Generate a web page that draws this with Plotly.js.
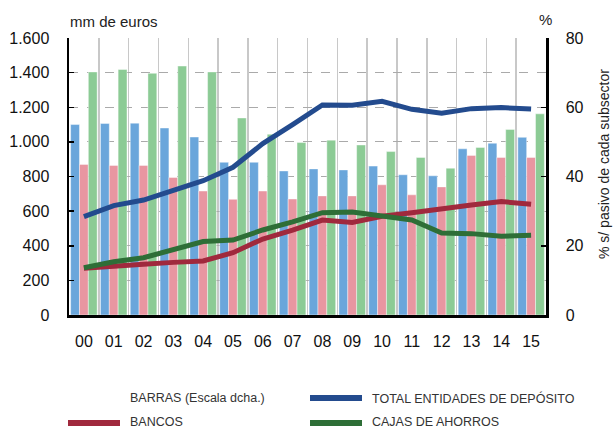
<!DOCTYPE html>
<html>
<head>
<meta charset="utf-8">
<script src="https://cdn.plot.ly/plotly-3.0.1.min.js"></script>
<style>html,body{margin:0;padding:0;background:#fff;}#chart{width:614px;height:430px;}</style>
</head>
<body>
<div id="chart"></div>
<script>
// ---- data ----
var years = ['00','01','02','03','04','05','06','07','08','09','10','11','12','13','14','15'];
// Lines (left axis, mm de euros)
var totalMM  = [568, 632, 664, 718, 776, 853, 990, 1100, 1213, 1211, 1234, 1188, 1165, 1192, 1198, 1190];
var bancosMM = [270, 285, 293, 304, 312, 360, 439, 490, 548, 535, 570, 591, 616, 635, 655, 640];
var cajasMM  = [273, 308, 331, 379, 424, 433, 491, 538, 591, 595, 574, 549, 474, 470, 455, 460];
// Bars (right axis, % s/ pasivo)
var totalPct  = [55.0, 55.3, 55.4, 54.0, 51.4, 44.1, 44.1, 41.6, 42.2, 41.9, 43.0, 40.5, 40.2, 48.0, 49.6, 51.3];
var bancosPct = [43.5, 43.2, 43.2, 39.7, 35.8, 33.4, 35.8, 33.5, 34.4, 34.4, 37.6, 34.7, 37.0, 46.1, 45.5, 45.5];
var cajasPct  = [70.2, 70.9, 69.8, 71.9, 70.2, 56.9, 52.2, 49.8, 50.5, 49.1, 47.2, 45.5, 42.4, 48.4, 53.6, 58.1];

var legendLabels = ['BARRAS (Escala dcha.)', 'TOTAL ENTIDADES DE DEPÓSITO', 'BANCOS', 'CAJAS DE AHORROS'];

// ---- styles ----
var cBarBlue = '#6aa6db', cBarPink = '#e896a1', cBarGreen = '#8ccb95';
var cLineBlue = '#234b8e', cLineRed = '#a0293d', cLineGreen = '#2e6e37';
var baseFont = 'Liberation Sans, Arial, Helvetica, sans-serif';

var L = 69, R = 68, T = 38, B = 115, W = 614, H = 430;
var pw = W - L - R, ph = H - T - B;
function px(x){ return (x - L) / pw; }
function py(y){ return (H - B - y) / ph; }

var barLine = {color: 'rgba(255,255,255,0.7)', width: 0.6};
var traces = [
  {type:'bar', x: years, y: totalPct, yaxis:'y', marker:{color:cBarBlue, line:barLine}, hoverinfo:'skip'},
  {type:'bar', x: years, y: bancosPct, yaxis:'y', marker:{color:cBarPink, line:barLine}, hoverinfo:'skip'},
  {type:'bar', x: years, y: cajasPct, yaxis:'y', marker:{color:cBarGreen, line:barLine}, hoverinfo:'skip'},
  {type:'scatter', mode:'lines', x: years, y: bancosMM, yaxis:'y2', line:{color:cLineRed, width:5}},
  {type:'scatter', mode:'lines', x: years, y: cajasMM, yaxis:'y2', line:{color:cLineGreen, width:5}},
  {type:'scatter', mode:'lines', x: years, y: totalMM, yaxis:'y2', line:{color:cLineBlue, width:5}}
];

var legFont = {family:baseFont, size:12.5, color:'#333'};
var annotations = [
  {xref:'paper', yref:'paper', x: px(68), y: py(21), xanchor:'left', yanchor:'middle', showarrow:false,
   text:'mm de euros', font:{family:baseFont, size:15, color:'#222'}},
  {xref:'paper', yref:'paper', x: px(545), y: py(20), xanchor:'center', yanchor:'middle', showarrow:false,
   text:'%', font:{family:baseFont, size:15, color:'#222'}},
  {xref:'paper', yref:'paper', x: px(604), y: py(164), xanchor:'center', yanchor:'middle', showarrow:false,
   textangle:-90, text:'% s/ pasivo de cada subsector', font:{family:baseFont, size:14, color:'#222'}},
  {xref:'paper', yref:'paper', x: px(128), y: py(398), xanchor:'left', yanchor:'middle', showarrow:false,
   text: legendLabels[0], font:legFont},
  {xref:'paper', yref:'paper', x: px(370), y: py(398), xanchor:'left', yanchor:'middle', showarrow:false,
   text: legendLabels[1], font:legFont},
  {xref:'paper', yref:'paper', x: px(128), y: py(422), xanchor:'left', yanchor:'middle', showarrow:false,
   text: legendLabels[2], font:legFont},
  {xref:'paper', yref:'paper', x: px(370), y: py(422), xanchor:'left', yanchor:'middle', showarrow:false,
   text: legendLabels[3], font:legFont}
];

var shapes = [
  {type:'line', xref:'paper', yref:'paper', x0:px(310), x1:px(362), y0:py(398), y1:py(398), line:{color:cLineBlue, width:6}},
  {type:'line', xref:'paper', yref:'paper', x0:px(68), x1:px(120), y0:py(423), y1:py(423), line:{color:cLineRed, width:6}},
  {type:'line', xref:'paper', yref:'paper', x0:px(310), x1:px(362), y0:py(423), y1:py(423), line:{color:cLineGreen, width:6}}
];

var layout = {
  width: W, height: H,
  margin: {l:L, r:R, t:T, b:B, pad:0},
  paper_bgcolor:'#fff', plot_bgcolor:'#fff',
  showlegend:false,
  separators: ',.',
  barmode:'group', bargap:0.11, bargroupgap:0,
  font:{family:baseFont, size:16, color:'#111'},
  xaxis:{
    type:'category', tickson:'boundaries', ticks:'', showgrid:true, gridcolor:'#c8c8c8', gridwidth:1.5,
    showline:true, linecolor:'#000', linewidth:2.5, zeroline:false,
    tickfont:{family:baseFont, size:16, color:'#111'}, ticklabelstandoff:10,
    range:[-0.5, 15.5]
  },
  yaxis:{
    side:'right', range:[0,80], dtick:20, tick0:0, showgrid:false, zeroline:false,
    showline:true, linecolor:'#000', linewidth:2.5, ticks:'inside', ticklen:5, tickwidth:1.5, tickcolor:'#000',
    tickfont:{family:baseFont, size:16, color:'#111'}, ticklabelstandoff:14, fixedrange:true
  },
  yaxis2:{
    overlaying:'y', side:'left', range:[0,1600], dtick:200, tick0:0, tickformat:',d',
    showgrid:true, gridcolor:'#aaaaaa', gridwidth:1, griddash:'dash', zeroline:false,
    showline:true, linecolor:'#000', linewidth:2.5, ticks:'inside', ticklen:5, tickwidth:1.5, tickcolor:'#000',
    tickfont:{family:baseFont, size:16, color:'#111'}, ticklabelstandoff:14, fixedrange:true
  },
  annotations: annotations,
  shapes: shapes
};

Plotly.newPlot('chart', traces, layout, {staticPlot:true, displayModeBar:false});
</script>
</body>
</html>
